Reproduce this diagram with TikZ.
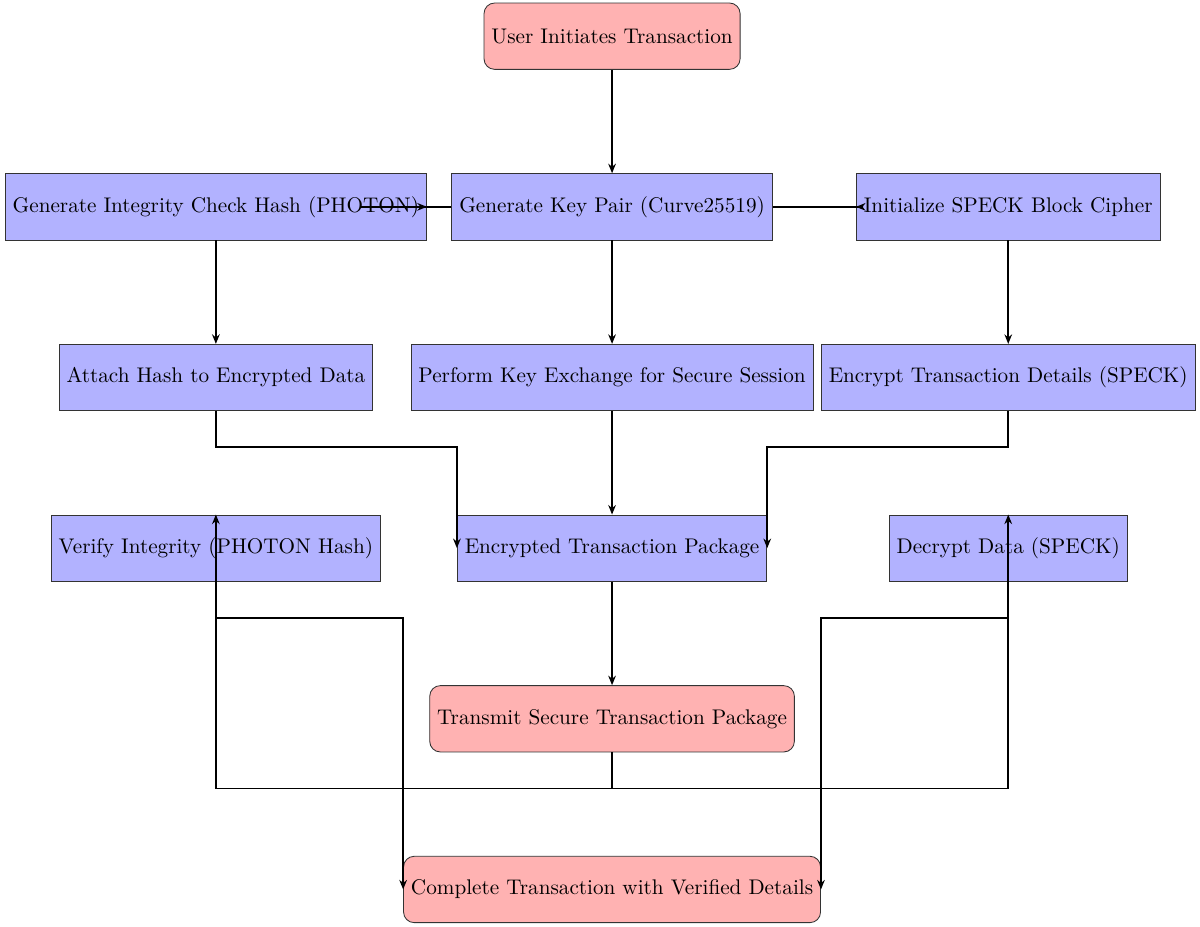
\documentclass[tikz,border=0pt]{standalone}
\usepackage{xcolor}
\usepackage{tikz}
\usetikzlibrary{shapes, arrows.meta, positioning, calc}
\definecolor{procblue}{RGB}{178, 178, 255}
\definecolor{endred}{RGB}{255, 178, 178}

\begin{document}
\begin{tikzpicture}[>={Stealth[length=4.5pt, width=3.6pt]},
    process/.style={rectangle, draw=black!80, fill=procblue, minimum height=1.1cm, inner sep=3.5pt},
    terminal/.style={rectangle, rounded corners=5pt, draw=black!80, fill=endred, minimum height=1.1cm, inner sep=3.5pt},
    flow/.style={->, thick}]
    \useasboundingbox (-10.15,0.6) rectangle (9.75,-14.76);

    % Start
    \node[terminal] (start) at (0,0) {User Initiates Transaction};

    % Setup row
    \node[process] (keygen) at (0,-2.83) {Generate Key Pair (Curve25519)};
    \node[process] (hashgen) at (-6.57,-2.83) {Generate Integrity Check Hash (PHOTON)};
    \node[process] (speckinit) at (6.57,-2.83) {Initialize SPECK Block Cipher};

    % Processing row
    \node[process] (attach) at (-6.57,-5.66) {Attach Hash to Encrypted Data};
    \node[process] (exchange) at (0,-5.66) {Perform Key Exchange for Secure Session};
    \node[process] (encrypt) at (6.57,-5.66) {Encrypt Transaction Details (SPECK)};

    % Package and receiving side
    \node[process] (verify) at (-6.57,-8.49) {Verify Integrity (PHOTON Hash)};
    \node[process] (package) at (0,-8.49) {Encrypted Transaction Package};
    \node[process] (decrypt) at (6.57,-8.49) {Decrypt Data (SPECK)};

    % Transmission and end
    \node[terminal] (transmit) at (0,-11.32) {Transmit Secure Transaction Package};
    \node[terminal] (complete) at (0,-14.15) {Complete Transaction with Verified Details};

    % Arrows
    \draw[flow] (start) -- (keygen);
    \draw[flow] (keygen.west) -- ++(-1.5,0) |- (hashgen.east);
    \draw[flow] (keygen.east) -- ++(1.5,0) |- (speckinit.west);
    \draw[flow] (hashgen) -- (attach);
    \draw[flow] (keygen) -- (exchange);
    \draw[flow] (speckinit) -- (encrypt);
    \draw[flow] (attach.south) -- ++(0,-0.6) -| (package.west);
    \draw[flow] (exchange) -- (package);
    \draw[flow] (encrypt.south) -- ++(0,-0.6) -| (package.east);
    \draw[flow] (package) -- (transmit);
    \draw[flow] (transmit.south) -- ++(0,-0.6) -| (verify.north);
    \draw[flow] (transmit.south) -- ++(0,-0.6) -| (decrypt.north);
    \draw[flow] (verify.south) -- ++(0,-0.6) -| (complete.west);
    \draw[flow] (decrypt.south) -- ++(0,-0.6) -| (complete.east);
\end{tikzpicture}
\end{document}
